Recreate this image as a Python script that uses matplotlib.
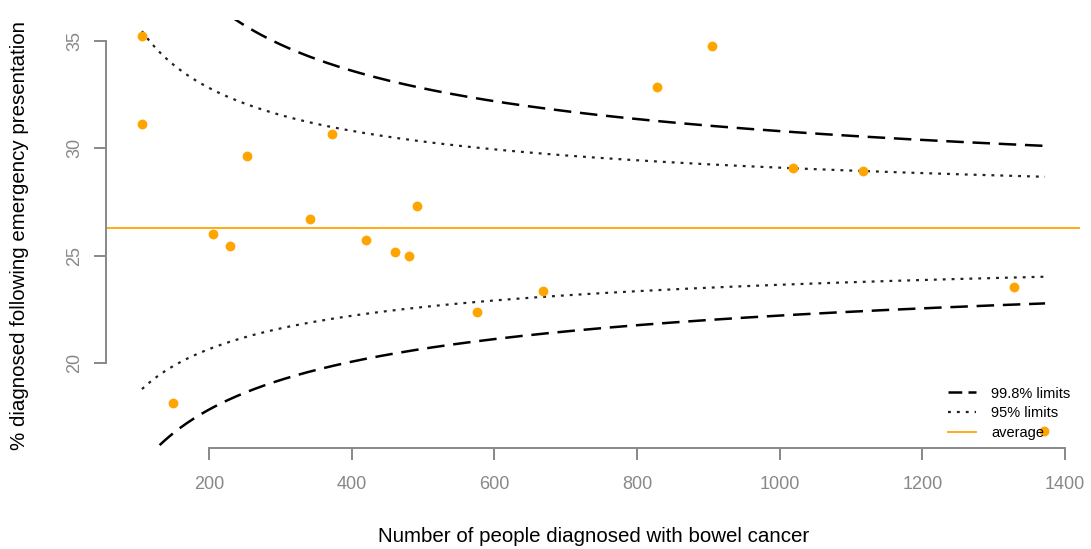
import numpy as np
import matplotlib
matplotlib.use("Agg")
import matplotlib.pyplot as plt
from matplotlib.lines import Line2D

plt.rcParams['font.family'] = ['Liberation Sans', 'DejaVu Sans']

# Data
n_diagnosed = [106, 106, 150, 205, 229, 253, 341, 372, 420, 461, 480, 491,
               576, 668, 828, 905, 1019, 1117, 1328, 1371]
pct_emergency = [35.25, 31.13, 18.14, 26.0, 25.45, 29.64, 26.71, 30.65, 25.73,
                 25.17, 25.0, 27.3, 22.39, 23.36, 32.86, 34.77, 29.08, 28.96,
                 23.56, 16.84]
average_pct = 26.28
z_95 = 1.96
z_998 = 3.09
limit_n_range = [106, 1372]

xticks = [200, 400, 600, 800, 1000, 1200, 1400]
yticks = [20, 25, 30, 35]

# Funnel limits (logit scale) derived from the average
def funnel(nn, z, sign):
    p = average_pct / 100.0
    lg = np.log(p / (1 - p))
    se = 1.0 / np.sqrt(nn * p * (1 - p))
    v = lg + sign * z * se
    return 100.0 / (1 + np.exp(-v))

W, H = 1091, 549
fig = plt.figure(figsize=(W / 100, H / 100), dpi=100)
ax = fig.add_axes([106 / W, 1 - 447.6 / H, (1080 - 106) / W, (447.6 - 19.7) / H])

dash_ls = (0, (7, 3.5))
dot_ls = (0, (1.3, 2.7))
nn = np.linspace(limit_n_range[0], limit_n_range[1], 400)
ax.plot(nn, funnel(nn, z_998, 1), color='black', lw=1.8, ls=dash_ls)
ax.plot(nn, funnel(nn, z_998, -1), color='black', lw=1.8, ls=dash_ls)
ax.plot(nn, funnel(nn, z_95, 1), color='#222222', lw=1.6, ls=dot_ls)
ax.plot(nn, funnel(nn, z_95, -1), color='#222222', lw=1.6, ls=dot_ls)
ax.axhline(average_pct, color='#FFA500', lw=1.3)
ax.scatter(n_diagnosed, pct_emergency, s=50, color='#FFA500', zorder=5, linewidths=0)

ax.set_xlim(55.6, 1421)
ax.set_ylim(16.06, 35.99)

gray = '#888888'
for s in ['top', 'right']:
    ax.spines[s].set_visible(False)
ax.spines['bottom'].set_bounds(200, 1400)
ax.spines['left'].set_bounds(20, 35)
for s in ['bottom', 'left']:
    ax.spines[s].set_color(gray)
    ax.spines[s].set_linewidth(1.4)

ax.set_xticks(xticks)
ax.set_yticks(yticks)
ax.tick_params(axis='both', colors=gray, length=8.6, width=1.4, labelsize=13,
               labelcolor='#888888')
ax.tick_params(axis='x', pad=12)
ax.tick_params(axis='y', pad=8)
for lab in ax.get_yticklabels():
    lab.set_rotation(90)
    lab.set_va('center')

fig.text(594 / W, 1 - 536 / H, 'Number of people diagnosed with bowel cancer',
         ha='center', va='center', fontsize=14.8, color='black')
fig.text(20 / W, 1 - 236 / H, '% diagnosed following emergency presentation',
         ha='center', va='center', fontsize=14.8, color='black', rotation=90)

handles = [Line2D([], [], color='black', lw=1.8, ls=(0, (5.5, 2.5))),
           Line2D([], [], color='#222222', lw=1.6, ls=dot_ls),
           Line2D([], [], color='#FFA500', lw=1.3)]
leg = ax.legend(handles, ['99.8% limits', '95% limits', 'average'],
                loc='lower right', bbox_to_anchor=(1076 / W, 1 - 446 / H),
                bbox_transform=fig.transFigure, frameon=False, fontsize=10.5,
                handlelength=1.95, handletextpad=1.0, labelspacing=0.4,
                borderaxespad=0)

fig.savefig('out.png', dpi=100)
